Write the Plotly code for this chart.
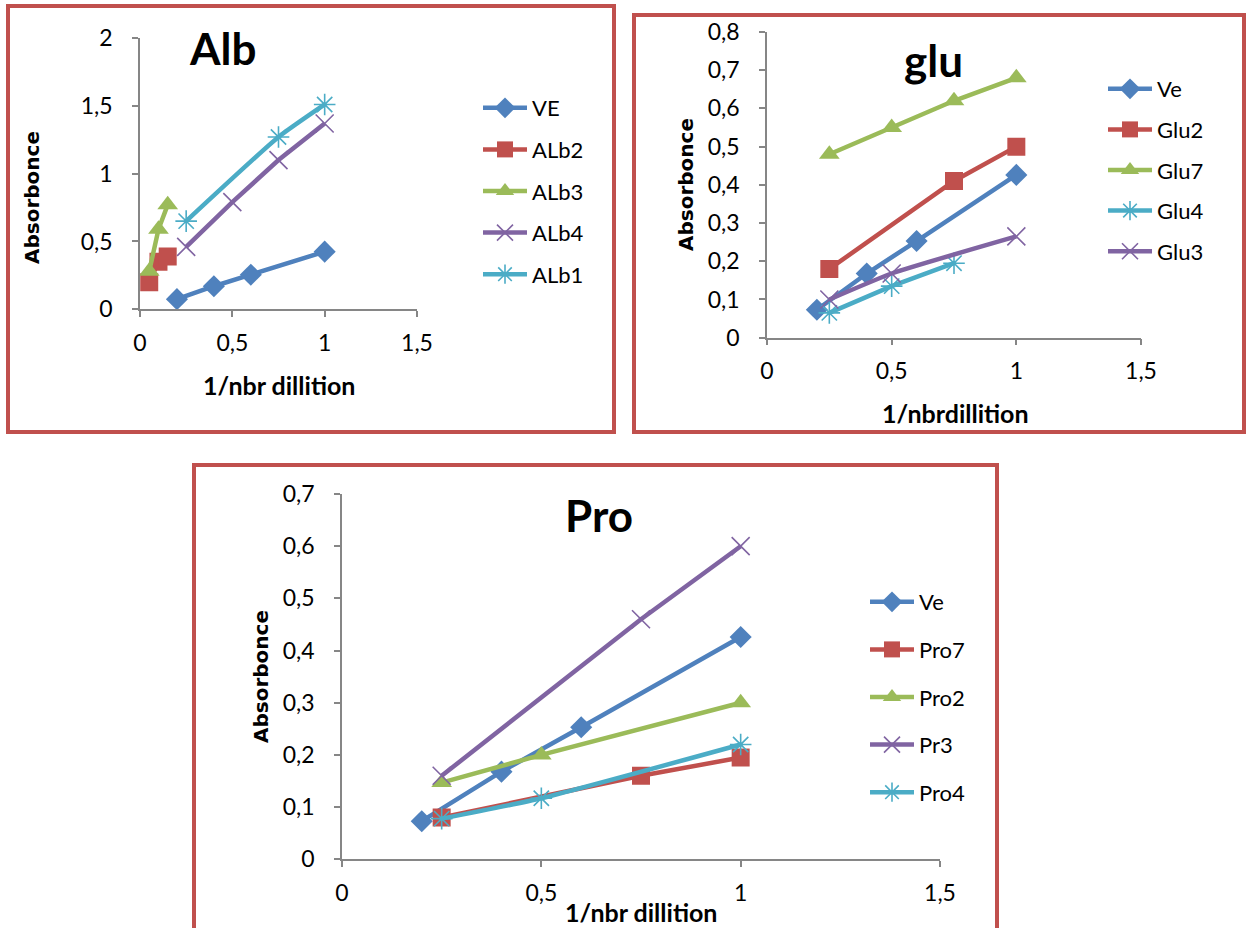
import plotly.graph_objects as go

W, H = 1249, 928

# ---------------- data ----------------
# Alb panel
alb_ve_x = [0.2, 0.4, 0.6, 1.0]
alb_ve_y = [0.075, 0.17, 0.255, 0.425]
alb2_x = [0.05, 0.1, 0.15]
alb2_y = [0.2, 0.35, 0.39]
alb3_x = [0.05, 0.1, 0.15]
alb3_y = [0.28, 0.59, 0.77]
alb4_x = [0.25, 0.5, 0.75, 1.0]
alb4_y = [0.46, 0.79, 1.1, 1.37]
alb1_x = [0.25, 0.75, 1.0]
alb1_y = [0.65, 1.27, 1.51]

# glu panel
glu_ve_x = [0.2, 0.4, 0.6, 1.0]
glu_ve_y = [0.073, 0.168, 0.253, 0.426]
glu2_x = [0.25, 0.75, 1.0]
glu2_y = [0.18, 0.41, 0.5]
glu7_x = [0.25, 0.5, 0.75, 1.0]
glu7_y = [0.48, 0.55, 0.62, 0.68]
glu4_x = [0.25, 0.5, 0.75]
glu4_y = [0.065, 0.135, 0.195]
glu3_x = [0.25, 0.5, 1.0]
glu3_y = [0.1, 0.168, 0.265]

# Pro panel
pro_ve_x = [0.2, 0.4, 0.6, 1.0]
pro_ve_y = [0.073, 0.168, 0.253, 0.426]
pro7_x = [0.25, 0.75, 1.0]
pro7_y = [0.08, 0.16, 0.195]
pro2_x = [0.25, 0.5, 1.0]
pro2_y = [0.147, 0.2, 0.3]
pr3_x = [0.25, 0.75, 1.0]
pr3_y = [0.16, 0.46, 0.6]
pro4_x = [0.25, 0.5, 1.0]
pro4_y = [0.078, 0.117, 0.22]

x_ticks = [0, 0.5, 1, 1.5]
alb_y_ticks = [0, 0.5, 1, 1.5, 2]
glu_y_ticks = [0, 0.1, 0.2, 0.3, 0.4, 0.5, 0.6, 0.7, 0.8]
pro_y_ticks = [0, 0.1, 0.2, 0.3, 0.4, 0.5, 0.6, 0.7]

# ---------------- styles ----------------
BLUE, RED, GREEN, PURPLE, CYAN = "#4F81BD", "#C0504D", "#9BBB59", "#8064A2", "#4BACC6"
FRAME = "#C0504D"
AX = "#868686"
FONT = "Lato"

STY = {
    "diamond": dict(symbol="diamond", size=17),
    "square": dict(symbol="square", size=18),
    "triangle": dict(symbol="triangle-up", size=18),
    "x": dict(symbol="x-thin-open", size=18),
    "star": dict(symbol="asterisk-open", size=18),
}


def tr(x, y, name, color, mk, xa, ya, legend, smooth=False):
    m = dict(STY[mk])
    m["color"] = color
    if mk in ("x", "star"):
        m["line"] = dict(color=color, width=1.6)
    return go.Scatter(
        x=x, y=y, name=name, mode="lines+markers",
        line=dict(color=color, width=4.5, shape="spline" if smooth else "linear", smoothing=0.5),
        marker=m, xaxis=xa, yaxis=ya, legend=legend, legendgroup=legend + name,
    )


fig = go.Figure()
# Alb
fig.add_trace(tr(alb_ve_x, alb_ve_y, "VE", BLUE, "diamond", "x", "y", "legend"))
fig.add_trace(tr(alb2_x, alb2_y, "ALb2", RED, "square", "x", "y", "legend"))
fig.add_trace(tr(alb3_x, alb3_y, "ALb3", GREEN, "triangle", "x", "y", "legend"))
fig.add_trace(tr(alb4_x, alb4_y, "ALb4", PURPLE, "x", "x", "y", "legend"))
fig.add_trace(tr(alb1_x, alb1_y, "ALb1", CYAN, "star", "x", "y", "legend", smooth=True))
# glu
fig.add_trace(tr(glu_ve_x, glu_ve_y, "Ve", BLUE, "diamond", "x2", "y2", "legend2"))
fig.add_trace(tr(glu2_x, glu2_y, "Glu2", RED, "square", "x2", "y2", "legend2"))
fig.add_trace(tr(glu7_x, glu7_y, "Glu7", GREEN, "triangle", "x2", "y2", "legend2"))
fig.add_trace(tr(glu4_x, glu4_y, "Glu4", CYAN, "star", "x2", "y2", "legend2"))
fig.add_trace(tr(glu3_x, glu3_y, "Glu3", PURPLE, "x", "x2", "y2", "legend2", smooth=True))
# Pro
fig.add_trace(tr(pro_ve_x, pro_ve_y, "Ve", BLUE, "diamond", "x3", "y3", "legend3"))
fig.add_trace(tr(pro7_x, pro7_y, "Pro7", RED, "square", "x3", "y3", "legend3"))
fig.add_trace(tr(pro2_x, pro2_y, "Pro2", GREEN, "triangle", "x3", "y3", "legend3"))
fig.add_trace(tr(pr3_x, pr3_y, "Pr3", PURPLE, "x", "x3", "y3", "legend3"))
fig.add_trace(tr(pro4_x, pro4_y, "Pro4", CYAN, "star", "x3", "y3", "legend3", smooth=True))


def px(x):
    return x / W


def py(y):
    return 1 - y / H


def axis(domain, rng, tickvals, anchor, standoff):
    return dict(
        domain=domain, range=rng, tickvals=tickvals, anchor=anchor,
        showline=True, linecolor=AX, linewidth=1.5, ticks="outside", ticklen=6,
        tickcolor=AX, tickwidth=1.5, showgrid=False, zeroline=False,
        ticklabelstandoff=standoff,
        tickfont=dict(family=FONT, size=23, color="#000"), fixedrange=True,
    )


layout = dict(
    width=W, height=H, margin=dict(l=0, r=0, t=0, b=0, autoexpand=False),
    paper_bgcolor="white", plot_bgcolor="white", separators=", ",
    font=dict(family=FONT, color="#000"),
    xaxis=axis([px(140), px(417)], [0, 1.5], x_ticks, "y", 6),
    yaxis=axis([py(309.3), py(38)], [0, 2], alb_y_ticks, "x", 15),
    xaxis2=axis([px(767), px(1141)], [0, 1.5], x_ticks, "y2", 6),
    yaxis2=axis([py(337.7), py(32)], [0, 0.8], glu_y_ticks, "x2", 15),
    xaxis3=axis([px(342), px(940)], [0, 1.5], x_ticks, "y3", 6),
    yaxis3=axis([py(859.3), py(494)], [0, 0.7], pro_y_ticks, "x3", 15),
)

leg_common = dict(xanchor="left", yanchor="top", bgcolor="rgba(0,0,0,0)",
                  font=dict(family=FONT, size=22, color="#000"), itemsizing="trace",
                  itemwidth=44)
layout["legend"] = dict(leg_common, x=px(478), y=py(87), tracegroupgap=10)
layout["legend2"] = dict(leg_common, x=px(1103), y=py(68), tracegroupgap=9)
layout["legend3"] = dict(leg_common, x=px(865), y=py(581), tracegroupgap=16)

fig.update_layout(**layout)

# frames
frames = [(8, 6, 614, 432), (634, 15, 1244, 432), (194, 465, 997, 940)]
for x0, y0, x1, y1 in frames:
    fig.add_shape(type="rect", xref="paper", yref="paper",
                  x0=px(x0), x1=px(x1), y0=py(y0), y1=py(y1),
                  line=dict(color=FRAME, width=4), layer="below")


# titles and axis titles
def ann(text, x, y, size, family=FONT, angle=0, bold=True):
    fig.add_annotation(text=f"<b>{text}</b>" if bold else text, x=px(x), y=py(y),
                       xref="paper", yref="paper", showarrow=False,
                       xanchor="center", yanchor="middle", textangle=angle,
                       font=dict(family=family, size=size, color="#000"))


ann("Alb", 222, 48, 44)
ann("glu", 933, 60, 44)
ann("Pro", 599, 515, 44)

ann("Absorbonce", 32, 198, 20, family="DejaVu Sans", angle=-90)
ann("Absorbonce", 686, 185, 20, family="DejaVu Sans", angle=-90)
ann("Absorbonce", 261, 677, 20, family="DejaVu Sans", angle=-90)

ann("1/nbr dillition", 279, 385, 25)
ann("1/nbrdillition", 955, 413, 25)
ann("1/nbr dillition", 641, 912, 25)

fig.write_html("out.html")
